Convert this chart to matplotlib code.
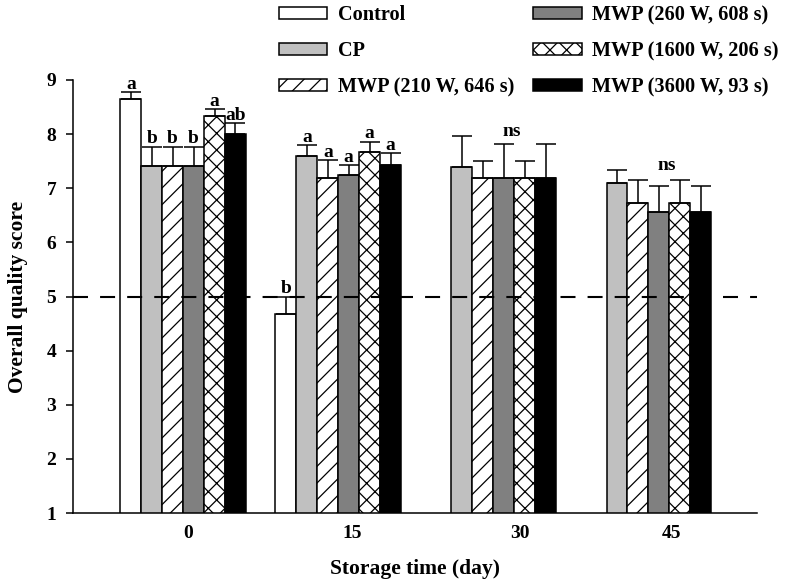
import numpy as np
import matplotlib
matplotlib.use("Agg")
import matplotlib.pyplot as plt

plt.rcParams['font.family'] = ['Liberation Serif', 'DejaVu Serif']
plt.rcParams['font.weight'] = 'bold'
plt.rcParams['hatch.linewidth'] = 0.9

days = ['0', '15', '30', '45']
series = ['Control', 'CP', 'MWP (210 W, 646 s)', 'MWP (260 W, 608 s)',
          'MWP (1600 W, 206 s)', 'MWP (3600 W, 93 s)']
control = [8.64, 4.67, np.nan, np.nan]
control_err = [0.14, 0.33, np.nan, np.nan]
cp = [7.42, 7.59, 7.39, 7.09]
cp_err = [0.35, 0.21, 0.57, 0.25]
mwp210 = [7.42, 7.19, 7.19, 6.73]
mwp210_err = [0.35, 0.33, 0.32, 0.43]
mwp260 = [7.42, 7.24, 7.19, 6.56]
mwp260_err = [0.35, 0.19, 0.62, 0.48]
mwp1600 = [8.33, 7.67, 7.19, 6.73]
mwp1600_err = [0.13, 0.19, 0.32, 0.43]
mwp3600 = [8.00, 7.43, 7.19, 6.56]
mwp3600_err = [0.21, 0.22, 0.62, 0.48]
letters = [['a', 'b', 'b', 'b', 'a', 'ab'],
           ['b', 'a', 'a', 'a', 'a', 'a'],
           [], []]
ns_groups = [2, 3]
threshold = 5

values = [control, cp, mwp210, mwp260, mwp1600, mwp3600]
errors = [control_err, cp_err, mwp210_err, mwp260_err, mwp1600_err, mwp3600_err]
facecolors = ['white', '#c0c0c0', 'white', '#808080', 'white', 'black']
hatches = [None, None, '//', None, 'xx', None]

fig = plt.figure(figsize=(7.86, 5.84), dpi=100)
ax = fig.add_axes([73/786, 1-513/584, (757-73)/786, (513-80)/584])

x = np.arange(len(days))
w = 0.135
for i, (v, e) in enumerate(zip(values, errors)):
    pos = x + (i - 2.5) * w
    ax.bar(pos, v, width=w, color=facecolors[i], edgecolor='black',
           linewidth=1.1, hatch=hatches[i], label=series[i], zorder=2)
    ax.errorbar(pos, v, yerr=[np.zeros(len(v)), e], fmt='none',
                ecolor='black', elinewidth=1.1, capsize=7.5, capthick=1.1, zorder=3)
    for g in range(len(days)):
        if letters[g]:
            ax.text(pos[g], v[g] + e[g] + 0.06, letters[g][i], ha='center',
                    va='baseline', fontsize=14, fontweight='bold')

for g in ns_groups:
    tops = [values[i][g] + errors[i][g] for i in range(1, 6)]
    ax.text(x[g] + 0.5 * w + 0.05, max(tops) + 0.0, 'ns', ha='center',
            va='baseline', fontsize=14, fontweight='bold')

ax.axhline(threshold, color='black', linewidth=1.5, linestyle=(0, (7.2, 5.8)), zorder=4)

ax.set_ylim(1, 9)
ax.set_xlim(-0.71, 3.70)
ax.set_yticks(range(1, 10))
ax.set_xticks([0.03, 1.09, 2.17, 3.15])
ax.set_xticklabels(days)
for s in ['top', 'right']:
    ax.spines[s].set_visible(False)
for s in ['left', 'bottom']:
    ax.spines[s].set_linewidth(1.1)
ax.tick_params(axis='y', direction='out', length=5, width=1.1, pad=7, labelsize=14)
ax.tick_params(axis='x', length=0, pad=9, labelsize=14)
for lab in ax.get_xticklabels() + ax.get_yticklabels():
    lab.set_fontweight('bold')

ax.set_xlabel('Storage time (day)', fontsize=15.5, fontweight='bold', labelpad=12)
ax.set_ylabel('Overall quality score', fontsize=15.5, fontweight='bold', labelpad=13)

fig.legend(loc='upper left', bbox_to_anchor=(279/786, 1 - 5/584), ncol=2,
           frameon=False, handlelength=2.37, handleheight=0.5,
           handletextpad=0.54, columnspacing=0.94, labelspacing=0.8,
           borderpad=0, borderaxespad=0, prop={'weight': 'bold', 'size': 14.6})

fig.savefig('out.png', dpi=100)
